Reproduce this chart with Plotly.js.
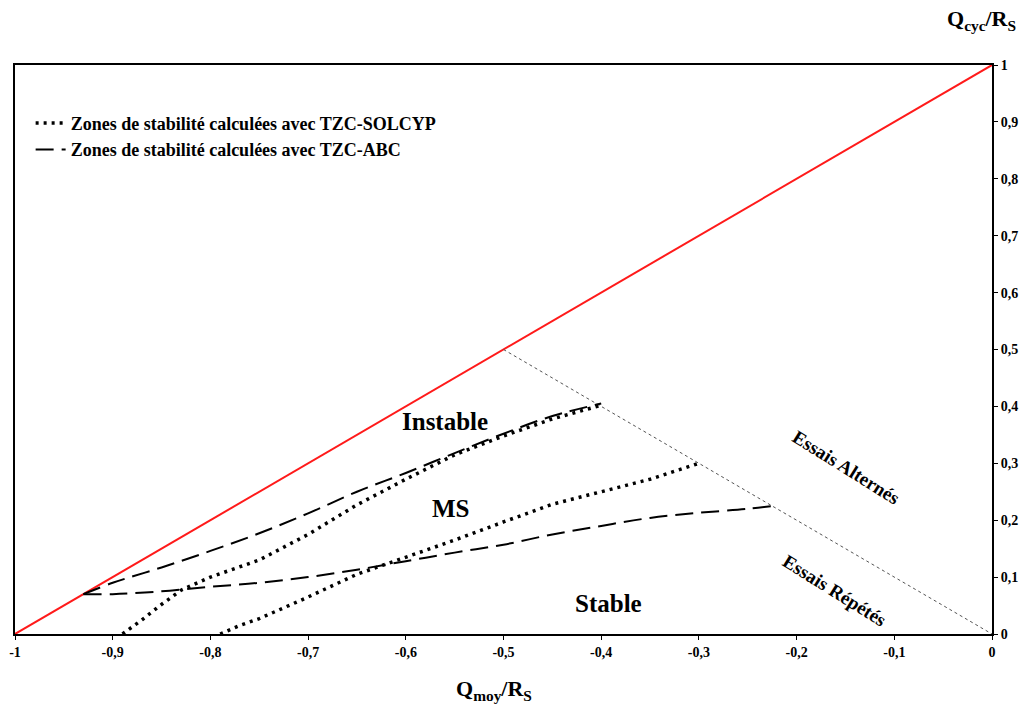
<!DOCTYPE html>
<html>
<head>
<meta charset="utf-8">
<script src="https://cdn.plot.ly/plotly-3.0.1.min.js"></script>
<style>html,body{margin:0;padding:0;background:#fff;}#chart{width:1030px;height:713px;}</style>
</head>
<body>
<div id="chart"></div>
<script>
// Limit line Qcyc = Qmoy + 1
const limitX = [-1, 0];
const limitY = [0, 1];
// Separation between alternate / repeated tests
const sepX = [-0.5, 0];
const sepY = [0.5, 0];

// TZC-SOLCYP (dotted)
const solUpperX = [-0.89, -0.87, -0.85, -0.83, -0.8, -0.75, -0.7, -0.65, -0.6, -0.55, -0.5, -0.45, -0.4];
const solUpperY = [0, 0.025, 0.052, 0.077, 0.1, 0.13, 0.175, 0.227, 0.272, 0.315, 0.348, 0.378, 0.402];
const solLowerX = [-0.79, -0.77, -0.75, -0.7, -0.65, -0.6, -0.55, -0.5, -0.45, -0.4, -0.35, -0.3];
const solLowerY = [0, 0.015, 0.027, 0.065, 0.105, 0.135, 0.165, 0.197, 0.228, 0.25, 0.272, 0.3];

// TZC-ABC (dashed)
const abcUpperX = [-0.93, -0.9, -0.85, -0.8, -0.75, -0.7, -0.65, -0.6, -0.55, -0.5, -0.45, -0.4];
const abcUpperY = [0.07, 0.09, 0.117, 0.146, 0.177, 0.212, 0.25, 0.283, 0.318, 0.352, 0.383, 0.405];
const abcLowerX = [-0.93, -0.9, -0.85, -0.8, -0.75, -0.7, -0.65, -0.6, -0.55, -0.5, -0.45, -0.4, -0.35, -0.3, -0.25, -0.225];
const abcLowerY = [0.07, 0.07, 0.075, 0.083, 0.09, 0.1, 0.113, 0.128, 0.143, 0.157, 0.175, 0.19, 0.204, 0.213, 0.22, 0.225];

// Tick labels
const xTickVals = [-1, -0.9, -0.8, -0.7, -0.6, -0.5, -0.4, -0.3, -0.2, -0.1, 0];
const xTickText = ['-1', '-0,9', '-0,8', '-0,7', '-0,6', '-0,5', '-0,4', '-0,3', '-0,2', '-0,1', '0'];
const yTickVals = [0, 0.1, 0.2, 0.3, 0.4, 0.5, 0.6, 0.7, 0.8, 0.9, 1];
const yTickText = ['0', '0,1', '0,2', '0,3', '0,4', '0,5', '0,6', '0,7', '0,8', '0,9', '1'];

// Zone labels
const zoneText = ['Instable', 'MS', 'Stable'];
const zoneX = [-0.56, -0.554, -0.393];
const zoneY = [0.373, 0.22, 0.053];
const testText = ['Essais Alternés', 'Essais Répétés'];
const testX = [-0.149, -0.161];
const testY = [0.292, 0.077];

const serif = 'Liberation Serif, Times New Roman, serif';
const dotDash = '3px,5px';
const longDash = '18px,8px';

const traces = [
  {x: limitX, y: limitY, mode: 'lines', line: {color: '#ff1a1a', width: 2}, showlegend: false, hoverinfo: 'skip'},
  {x: sepX, y: sepY, mode: 'lines', line: {color: '#555', width: 1, dash: '3px,3px'}, showlegend: false, hoverinfo: 'skip'},
  {x: solUpperX, y: solUpperY, mode: 'lines', line: {color: '#000', width: 3.5, dash: dotDash}, name: 'Zones de stabilité calculées avec TZC-SOLCYP', legendgroup: 'sol'},
  {x: solLowerX, y: solLowerY, mode: 'lines', line: {color: '#000', width: 3.5, dash: dotDash}, showlegend: false, legendgroup: 'sol'},
  {x: abcUpperX, y: abcUpperY, mode: 'lines', line: {color: '#000', width: 2, dash: longDash, shape: 'spline'}, name: 'Zones de stabilité calculées avec TZC-ABC', legendgroup: 'abc'},
  {x: abcLowerX, y: abcLowerY, mode: 'lines', line: {color: '#000', width: 2, dash: longDash, shape: 'spline'}, showlegend: false, legendgroup: 'abc'}
];

const annotations = [];
zoneText.forEach((t, i) => annotations.push({
  x: zoneX[i], y: zoneY[i], xref: 'x', yref: 'y', text: t, showarrow: false,
  font: {family: serif, size: 25, color: '#000', weight: 'bold'}
}));
testText.forEach((t, i) => annotations.push({
  x: testX[i], y: testY[i], xref: 'x', yref: 'y', text: t, showarrow: false, textangle: 32,
  font: {family: serif, size: 19, color: '#000', weight: 'bold'}
}));
annotations.push({
  x: 1.027, y: 1.079, xref: 'paper', yref: 'paper', xanchor: 'right', yanchor: 'middle',
  text: 'Q<sub>cyc</sub>/R<sub>S</sub>', showarrow: false,
  font: {family: serif, size: 22, color: '#000', weight: 'bold'}
});
annotations.push({
  x: 0.49, y: -0.098, xref: 'paper', yref: 'paper', yanchor: 'middle',
  text: 'Q<sub>moy</sub>/R<sub>S</sub>', showarrow: false,
  font: {family: serif, size: 22, color: '#000', weight: 'bold'}
});

const layout = {
  width: 1030, height: 713,
  margin: {l: 15, r: 38, t: 65, b: 79},
  paper_bgcolor: '#fff', plot_bgcolor: '#fff',
  showlegend: true,
  legend: {x: 0.016, y: 0.93, xanchor: 'left', yanchor: 'top', bgcolor: 'rgba(0,0,0,0)',
    font: {family: serif, size: 18, color: '#000', weight: 'bold'}, itemwidth: 30, tracegroupgap: 0},
  xaxis: {range: [-1, 0], tickvals: xTickVals, ticktext: xTickText, showgrid: false, zeroline: false,
    showline: true, mirror: true, linecolor: '#000', linewidth: 2, ticks: 'outside', ticklen: 4, tickcolor: '#000',
    tickfont: {family: serif, size: 14, color: '#000', weight: 'bold'}, fixedrange: true},
  yaxis: {range: [0, 1], side: 'right', tickvals: yTickVals, ticktext: yTickText, showgrid: false, zeroline: false,
    showline: true, mirror: true, linecolor: '#000', linewidth: 2, ticks: 'outside', ticklen: 4, tickcolor: '#000',
    tickfont: {family: serif, size: 14, color: '#000', weight: 'bold'}, fixedrange: true},
  annotations: annotations
};

Plotly.newPlot('chart', traces, layout, {displayModeBar: false, staticPlot: true});
</script>
</body>
</html>
